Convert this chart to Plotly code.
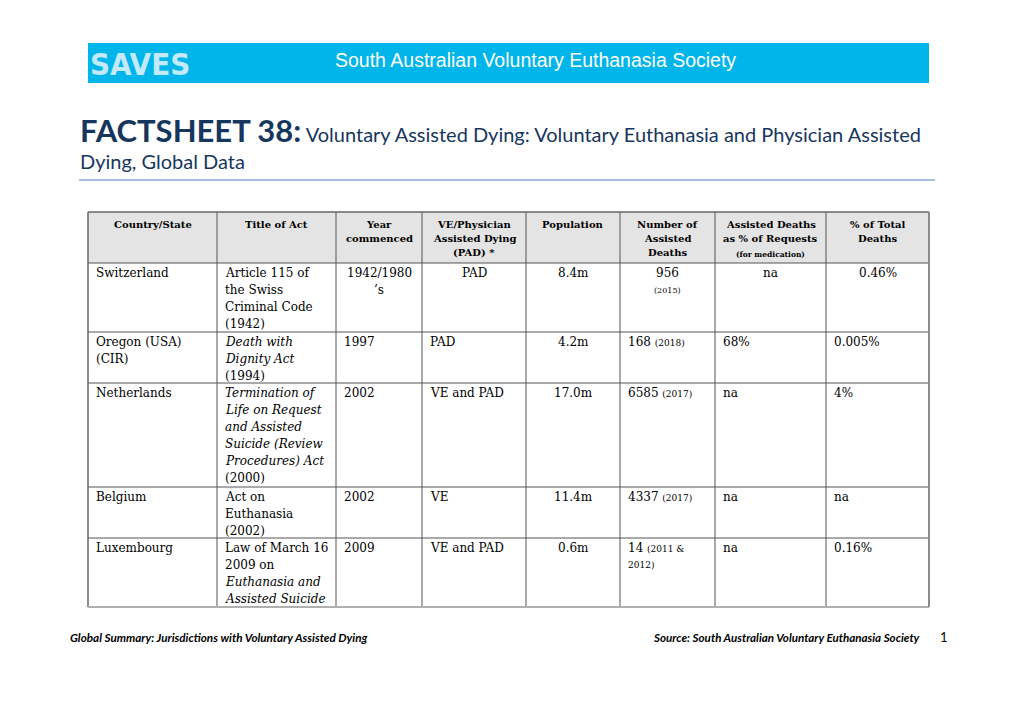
import plotly.graph_objects as go

W, H = 1020, 720
OFF = 8  # page body margin in the browser

# ---------------- data ----------------
headers = [
    ["Country/State"],
    ["Title of Act"],
    ["Year", "commenced"],
    ["VE/Physician", "Assisted Dying", "(PAD) *"],
    ["Population"],
    ["Number of", "Assisted", "Deaths"],
    ["Assisted Deaths", "as % of Requests"],
    ["% of Total", "Deaths"],
]
header_note = "(for medication)"

countries = [["Switzerland"], ["Oregon (USA)", "(CIR)"], ["Netherlands"], ["Belgium"], ["Luxembourg"]]
acts = [
    ["Article 115 of", "the Swiss", "Criminal Code", "(1942)"],
    ["<i>Death with</i>", "<i>Dignity Act</i>", "(1994)"],
    ["<i>Termination of</i>", "<i>Life on Request</i>", "<i>and Assisted</i>",
     "<i>Suicide (Review</i>", "<i>Procedures) Act</i>", "(2000)"],
    ["Act on", "Euthanasia", "(2002)"],
    ["Law of March 16", "2009 on", "<i>Euthanasia and</i>", "<i>Assisted Suicide</i>"],
]
years = [["1942/1980", "’s"], ["1997"], ["2002"], ["2002"], ["2009"]]
types = ["PAD", "PAD", "VE and PAD", "VE", "VE and PAD"]
population = ["8.4m", "4.2m", "17.0m", "11.4m", "0.6m"]
deaths = ["956", "168", "6585", "4337", "14"]
death_years = [["(2015)"], ["(2018)"], ["(2017)"], ["(2017)"], ["(2011 &", "2012)"]]
pct_requests = ["na", "68%", "na", "na", "na"]
pct_total = ["0.46%", "0.005%", "4%", "na", "0.16%"]

col_widths = [129, 119, 86, 104, 94, 95, 111, 103]

# ---------------- layout helpers ----------------
TABLE_X0, TABLE_Y0 = 88, 212
HEADER_H = 51
ROW_LINE_H = 17.2
TEXT_LINE_H = 17
BODY_FONT = "DejaVu Serif"
NAVY = "#17365D"

shapes = []
annotations = []


def txt(x, y, text, size=12, color="black", family=BODY_FONT, anchor="left"):
    annotations.append(dict(
        x=x, y=y, xref="x", yref="y", text=text, showarrow=False,
        xanchor=anchor, yanchor="middle",
        font=dict(size=size, color=color, family=family), borderpad=0,
    ))


def line(x0, y0, x1, y1, color, width):
    shapes.append(dict(type="line", xref="x", yref="y", x0=x0, x1=x1, y0=y0, y1=y1,
                       line=dict(color=color, width=width)))


def small(s, size=9):
    return f"<span style='font-size:{size}px'>{s}</span>"


# column boundaries
col_x = [TABLE_X0]
for w in col_widths:
    col_x.append(col_x[-1] + w)

# row cell contents
rows = []
for i in range(len(countries)):
    if i == 0:
        death_lines = [deaths[i], small(death_years[i][0], 8)]
    else:
        death_lines = [deaths[i] + " " + small(death_years[i][0])] + [small(s) for s in death_years[i][1:]]
    rows.append([countries[i], acts[i], years[i], [types[i]], [population[i]],
                 death_lines, [pct_requests[i]], [pct_total[i]]])

row_lines = [max(len(c) for c in r) for r in rows]
body_top = TABLE_Y0 + HEADER_H
row_y = [body_top]
cum = 0
for n in row_lines:
    cum += n
    row_y.append(round(body_top + cum * ROW_LINE_H))

# ---------------- banner ----------------
shapes.append(dict(type="rect", xref="x", yref="y", x0=88, x1=929, y0=43, y1=83,
                   fillcolor="#00B5E9", line=dict(width=0), layer="below"))
txt(89, 64, "<b>SAVES</b>", size=31, color="#C3EAFB",
    family="DejaVu Sans Condensed, Liberation Sans Narrow, Arial Narrow, sans-serif")
txt(535, 60, "South Australian Voluntary Euthanasia Society", size=19.5, color="white",
    family="Liberation Sans, Arial, sans-serif", anchor="center")

# ---------------- title ----------------
txt(79, 130, "<b><span style='font-size:31px'>FACTSHEET 38:</span></b> "
    "Voluntary Assisted Dying: Voluntary Euthanasia and Physician Assisted",
    size=20, color=NAVY, family="Lato, sans-serif")
txt(79, 161, "Dying, Global Data", size=20, color=NAVY, family="Lato, sans-serif")
line(79, 180, 935, 180, "#4F81BD", 1)

# ---------------- table ----------------
shapes.append(dict(type="rect", xref="x", yref="y", x0=col_x[0], x1=col_x[-1],
                   y0=TABLE_Y0, y1=TABLE_Y0 + HEADER_H, fillcolor="#E4E4E4",
                   line=dict(width=0), layer="below"))

for c, lines in enumerate(headers):
    cx = (col_x[c] + col_x[c + 1]) / 2
    for k, s in enumerate(lines):
        txt(cx, TABLE_Y0 + 12 + k * 14, f"<b>{s}</b>", size=10, anchor="center")
    if c == 6:
        txt(cx, TABLE_Y0 + 42, f"<b>{header_note}</b>", size=7.5, anchor="center")

for r, row in enumerate(rows):
    top = row_y[r]
    for c, lines in enumerate(row):
        if c in (0, 1):
            align = "left"
        elif r == 0 or c == 4:
            align = "center"
        else:
            align = "left"
        x = col_x[c] + 7 if align == "left" else (col_x[c] + col_x[c + 1]) / 2
        for k, s in enumerate(lines):
            txt(x, top + 10 + k * TEXT_LINE_H, s, size=12, anchor=align)

# inner grid
for y in row_y[:-1]:
    line(col_x[0], y, col_x[-1], y, "#555555", 1)
for x in col_x[1:-1]:
    line(x, TABLE_Y0, x, row_y[-1], "#555555", 1)
# outer border
line(col_x[0], TABLE_Y0, col_x[-1], TABLE_Y0, "#666666", 1.3)
line(col_x[0], TABLE_Y0, col_x[0], row_y[-1], "#666666", 1.5)
line(col_x[0], row_y[-1], col_x[-1], row_y[-1], "#B0B0B0", 2)
line(col_x[-1], TABLE_Y0, col_x[-1], row_y[-1], "#8A8A8A", 2)

# ---------------- footer ----------------
txt(69, 637, "<b><i>Global Summary: Jurisdictions with Voluntary Assisted Dying</i></b>",
    size=11.7, family="Lato, sans-serif")
txt(921, 637, "<b><i>Source: South Australian Voluntary Euthanasia Society</i></b>",
    size=11.6, family="Lato, sans-serif", anchor="right")
txt(939, 637, "1", size=13, family="Lato, sans-serif")

fig = go.Figure()
fig.update_layout(
    width=W, height=H, margin=dict(l=0, r=0, t=0, b=0),
    paper_bgcolor="white", plot_bgcolor="white",
    xaxis=dict(range=[OFF, W + OFF], visible=False, fixedrange=True),
    yaxis=dict(range=[H + OFF, OFF], visible=False, fixedrange=True),
    shapes=shapes, annotations=annotations, showlegend=False,
)
fig.write_html("out.html")
